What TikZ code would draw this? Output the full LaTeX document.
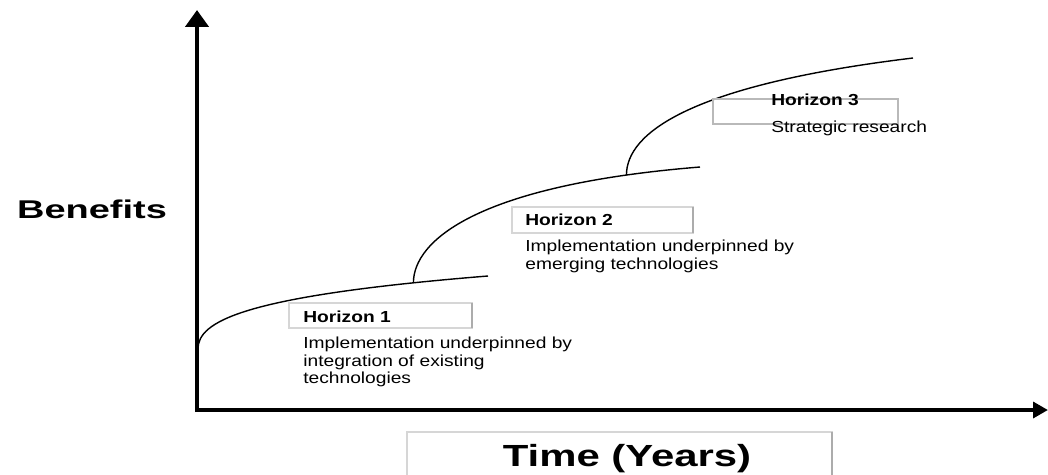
\documentclass[tikz,border=0pt]{standalone}
\usepackage{fontspec}
\usepackage{tikz}
\newfontfamily\labelfont[FakeStretch=1.2]{Liberation Sans}
\newfontfamily\benefitsfont[FakeStretch=1.48]{Liberation Sans}
\newfontfamily\timefont[FakeStretch=1.37]{Liberation Sans}
\definecolor{boxgray}{RGB}{214,214,214}
\definecolor{edgegray}{RGB}{172,172,172}
\definecolor{midgray}{RGB}{185,185,185}
\usetikzlibrary{arrows.meta}

\begin{document}
\begin{tikzpicture}[x=0.02cm, y=-0.02cm,
    yaxis/.style={line width=2.6pt, -{Triangle[length=9.6pt, width=13pt]}},
    xaxis/.style={line width=2.4pt, -{Triangle[length=8.5pt, width=9pt]}},
    curve/.style={line width=0.8pt},
    hbox/.style={draw=boxgray, line width=0.7pt},
    hedge/.style={draw=edgegray, line width=0.9pt},
    title/.style={font=\labelfont\bfseries\fontsize{9.1}{10}\selectfont,
                  inner sep=0pt, anchor=west},
    desc/.style={font=\labelfont\fontsize{9.1}{9.8}\selectfont,
                 inner sep=0pt, anchor=north west, align=left}
]
    \useasboundingbox (0,0) rectangle (1048,474);
    \clip (0,0) rectangle (1048,474);

    % growth curves of the three horizons
    \coordinate (o1) at (198,349);
    \draw[curve] (o1) .. controls (198,322) and (240,296) .. (488,276)
        coordinate[pos=0.89] (j1);
    \draw[curve] (j1) .. controls +(0,-42) and +(-223,18) .. (700,167)
        coordinate[pos=0.88] (j2);
    \draw[curve] (j2) .. controls +(0,-42) and +(-223,27) .. (913,58);

    % label boxes
    \draw[hbox] (289,303) rectangle (472,328);
    \draw[hedge] (472,303) -- (472,328);
    \draw[hbox] (512,207) rectangle (693,233);
    \draw[hedge] (693,207) -- (693,233);
    \draw[draw=midgray, line width=0.8pt] (713,99) rectangle (898,124);
    \draw[hbox] (407,432) rectangle (832,480);
    \draw[hedge] (832,432) -- (832,480);

    \node[title] (h1) at (303,317) {Horizon 1};
    \node[desc]  (d1) at (303,337) {Implementation underpinned by\\
        integration of existing\\ technologies};
    \node[title] (h2) at (525,220) {Horizon 2};
    \node[desc]  (d2) at (525,240) {Implementation underpinned by\\
        emerging technologies};
    \node[title] (h3) at (771,100) {Horizon 3};
    \node[desc]  (d3) at (771,121) {Strategic research};

    % axes
    \coordinate (ybase) at (197,412);
    \coordinate (ytip)  at (197,10);
    \coordinate (xbase) at (195,410);
    \coordinate (xtip)  at (1048,410);
    \draw[yaxis] (ybase) -- (ytip);
    \draw[xaxis] (xbase) -- (xtip);

    \node[font=\benefitsfont\bfseries\fontsize{14.6}{16}\selectfont,
          inner sep=0pt, anchor=base] (benefits) at (92,218) {Benefits};
    \node[font=\timefont\bfseries\fontsize{17.4}{20}\selectfont,
          inner sep=0pt, anchor=base] (time) at (627,466) {Time (Years)};
\end{tikzpicture}
\end{document}
